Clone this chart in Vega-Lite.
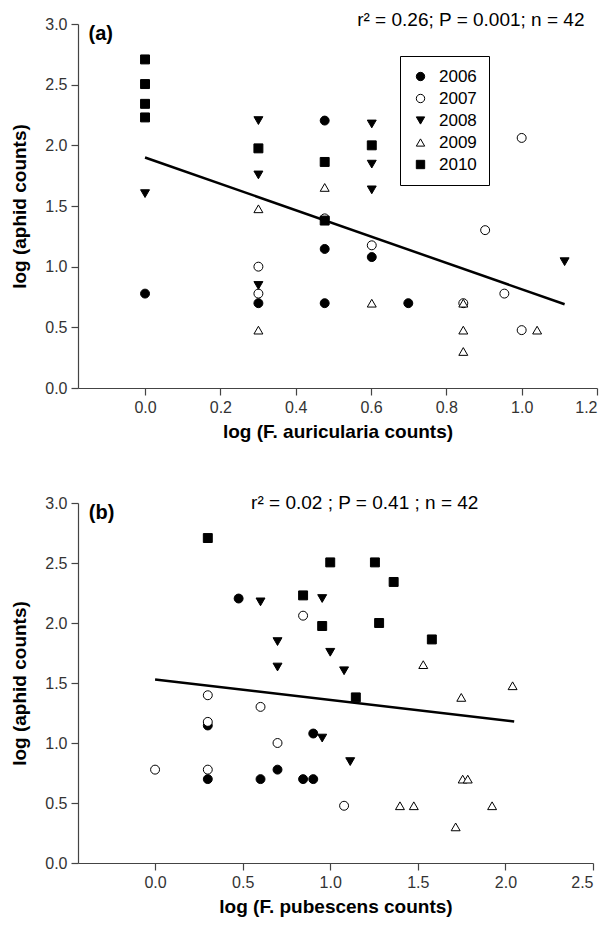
{
  "$schema": "https://vega.github.io/schema/vega-lite/v6.json",
  "padding": {"left": 10, "top": 10, "right": 5, "bottom": 5},
  "background": "white",
  "spacing": 52,
  "config": {
    "font": "Liberation Sans",
    "view": {"stroke": null},
    "axis": {
      "grid": false,
      "domainColor": "#444",
      "tickColor": "#444",
      "labelColor": "#333",
      "labelFont": "Liberation Sans",
      "labelFontSize": 16,
      "titleFont": "Liberation Sans",
      "titleFontSize": 19,
      "titleFontWeight": "bold",
      "titleColor": "black",
      "tickSize": 7,
      "labelPadding": 4,
      "domainWidth": 1.2,
      "tickWidth": 1.2
    },
    "legend": {
      "strokeColor": "black",
      "fillColor": "white",
      "padding": 12,
      "cornerRadius": 0,
      "labelFont": "Liberation Sans",
      "labelFontSize": 17,
      "labelColor": "black",
      "symbolSize": 70,
      "symbolStrokeColor": "black",
      "symbolStrokeWidth": 1,
      "symbolOpacity": 1,
      "rowPadding": 4,
      "labelOffset": 10
    }
  },
  "vconcat": [
    {
      "width": 519,
      "height": 364,
      "layer": [
        {
          "data": {"values": [
            {"x": 0, "y": 0.778, "year": "2006"},
            {"x": 0.301, "y": 0.699, "year": "2006"},
            {"x": 0.477, "y": 2.204, "year": "2006"},
            {"x": 0.477, "y": 1.146, "year": "2006"},
            {"x": 0.477, "y": 0.699, "year": "2006"},
            {"x": 0.602, "y": 1.079, "year": "2006"},
            {"x": 0.699, "y": 0.699, "year": "2006"},
            {"x": 0.301, "y": 1.0, "year": "2007"},
            {"x": 0.301, "y": 0.778, "year": "2007"},
            {"x": 0.477, "y": 1.398, "year": "2007"},
            {"x": 0.602, "y": 1.176, "year": "2007"},
            {"x": 0.845, "y": 0.699, "year": "2007"},
            {"x": 0.903, "y": 1.301, "year": "2007"},
            {"x": 0.954, "y": 0.778, "year": "2007"},
            {"x": 1.0, "y": 2.061, "year": "2007"},
            {"x": 1.0, "y": 0.477, "year": "2007"},
            {"x": 0, "y": 1.602, "year": "2008"},
            {"x": 0.301, "y": 2.204, "year": "2008"},
            {"x": 0.301, "y": 1.756, "year": "2008"},
            {"x": 0.301, "y": 0.845, "year": "2008"},
            {"x": 0.602, "y": 2.176, "year": "2008"},
            {"x": 0.602, "y": 1.845, "year": "2008"},
            {"x": 0.602, "y": 1.633, "year": "2008"},
            {"x": 1.114, "y": 1.041, "year": "2008"},
            {"x": 0.301, "y": 1.477, "year": "2009"},
            {"x": 0.301, "y": 0.477, "year": "2009"},
            {"x": 0.477, "y": 1.653, "year": "2009"},
            {"x": 0.602, "y": 0.699, "year": "2009"},
            {"x": 0.845, "y": 0.699, "year": "2009"},
            {"x": 0.845, "y": 0.477, "year": "2009"},
            {"x": 0.845, "y": 0.301, "year": "2009"},
            {"x": 1.041, "y": 0.477, "year": "2009"},
            {"x": 0, "y": 2.708, "year": "2010"},
            {"x": 0, "y": 2.505, "year": "2010"},
            {"x": 0, "y": 2.342, "year": "2010"},
            {"x": 0, "y": 2.23, "year": "2010"},
            {"x": 0.301, "y": 1.975, "year": "2010"},
            {"x": 0.477, "y": 1.863, "year": "2010"},
            {"x": 0.477, "y": 1.38, "year": "2010"},
            {"x": 0.602, "y": 2.0, "year": "2010"}
          ]},
          "mark": {"type": "point", "filled": true, "opacity": 1, "stroke": "black", "strokeWidth": 1, "size": 80},
          "encoding": {
            "x": {"field": "x", "type": "quantitative",
              "scale": {"domain": [-0.178, 1.2], "nice": false, "zero": false},
              "axis": {"values": [0, 0.2, 0.4, 0.6, 0.8, 1.0, 1.2], "format": ".1f", "title": "log (F. auricularia counts)", "titlePadding": 7}},
            "y": {"field": "y", "type": "quantitative",
              "scale": {"domain": [0, 3], "nice": false},
              "axis": {"values": [0, 0.5, 1, 1.5, 2, 2.5, 3], "format": ".1f", "title": "log (aphid counts)", "titlePadding": 15}},
            "shape": {"field": "year", "type": "nominal",
              "scale": {"domain": ["2006", "2007", "2008", "2009", "2010"], "range": ["circle", "circle", "triangle-down", "triangle-up", "square"]},
              "legend": {"title": null, "orient": "none", "legendX": 322, "legendY": 32,
                "encode": {"symbols": {"update": {"stroke": {"value": "black"}, "strokeWidth": {"value": 1}, "opacity": {"value": 1}}}}}},
            "fill": {"field": "year", "type": "nominal",
              "scale": {"domain": ["2006", "2007", "2008", "2009", "2010"], "range": ["black", "white", "black", "white", "black"]},
              "legend": {"title": null, "orient": "none", "legendX": 322, "legendY": 32,
                "encode": {"symbols": {"update": {"stroke": {"value": "black"}, "strokeWidth": {"value": 1}, "opacity": {"value": 1}}}}}}
          }
        },
        {
          "data": {"values": [{"x": 0, "y": 1.9}, {"x": 1.114, "y": 0.69}]},
          "mark": {"type": "line", "color": "black", "strokeWidth": 2.5},
          "encoding": {
            "x": {"field": "x", "type": "quantitative"},
            "y": {"field": "y", "type": "quantitative"}
          }
        },
        {
          "data": {"values": [{"x": -0.15, "y": 2.918, "label": "(a)"}]},
          "mark": {"type": "text", "align": "left", "baseline": "middle", "fontSize": 20, "fontWeight": "bold", "color": "black"},
          "encoding": {
            "x": {"field": "x", "type": "quantitative"},
            "y": {"field": "y", "type": "quantitative"},
            "text": {"field": "label"}
          }
        },
        {
          "data": {"values": [{"x": 0.865, "y": 2.984, "label": "r² = 0.26; P = 0.001; n = 42"}]},
          "mark": {"type": "text", "align": "center", "baseline": "alphabetic", "fontSize": 19, "color": "black"},
          "encoding": {
            "x": {"field": "x", "type": "quantitative"},
            "y": {"field": "y", "type": "quantitative"},
            "text": {"field": "label"}
          }
        }
      ]
    },
    {
      "width": 515,
      "height": 360,
      "layer": [
        {
          "data": {"values": [
            {"x": 0.477, "y": 2.204, "year": "2006"},
            {"x": 0.301, "y": 1.146, "year": "2006"},
            {"x": 0.301, "y": 0.699, "year": "2006"},
            {"x": 0.602, "y": 0.699, "year": "2006"},
            {"x": 0.699, "y": 0.778, "year": "2006"},
            {"x": 0.845, "y": 0.699, "year": "2006"},
            {"x": 0.903, "y": 0.699, "year": "2006"},
            {"x": 0.903, "y": 1.079, "year": "2006"},
            {"x": 0, "y": 0.778, "year": "2007"},
            {"x": 0.301, "y": 1.398, "year": "2007"},
            {"x": 0.301, "y": 1.176, "year": "2007"},
            {"x": 0.301, "y": 0.778, "year": "2007"},
            {"x": 0.602, "y": 1.301, "year": "2007"},
            {"x": 0.699, "y": 1.0, "year": "2007"},
            {"x": 0.845, "y": 2.061, "year": "2007"},
            {"x": 1.079, "y": 0.477, "year": "2007"},
            {"x": 0.602, "y": 2.176, "year": "2008"},
            {"x": 0.699, "y": 1.845, "year": "2008"},
            {"x": 0.699, "y": 1.633, "year": "2008"},
            {"x": 0.954, "y": 2.204, "year": "2008"},
            {"x": 1.0, "y": 1.756, "year": "2008"},
            {"x": 1.079, "y": 1.602, "year": "2008"},
            {"x": 0.954, "y": 1.041, "year": "2008"},
            {"x": 1.114, "y": 0.845, "year": "2008"},
            {"x": 1.531, "y": 1.653, "year": "2009"},
            {"x": 2.041, "y": 1.477, "year": "2009"},
            {"x": 1.748, "y": 1.38, "year": "2009"},
            {"x": 1.756, "y": 0.699, "year": "2009"},
            {"x": 1.785, "y": 0.699, "year": "2009"},
            {"x": 1.398, "y": 0.477, "year": "2009"},
            {"x": 1.477, "y": 0.477, "year": "2009"},
            {"x": 1.924, "y": 0.477, "year": "2009"},
            {"x": 1.716, "y": 0.301, "year": "2009"},
            {"x": 0.301, "y": 2.708, "year": "2010"},
            {"x": 0.845, "y": 2.23, "year": "2010"},
            {"x": 1.0, "y": 2.505, "year": "2010"},
            {"x": 1.255, "y": 2.505, "year": "2010"},
            {"x": 1.362, "y": 2.342, "year": "2010"},
            {"x": 0.954, "y": 1.975, "year": "2010"},
            {"x": 1.279, "y": 2.0, "year": "2010"},
            {"x": 1.58, "y": 1.863, "year": "2010"},
            {"x": 1.146, "y": 1.38, "year": "2010"}
          ]},
          "mark": {"type": "point", "filled": true, "opacity": 1, "stroke": "black", "strokeWidth": 1, "size": 80},
          "encoding": {
            "x": {"field": "x", "type": "quantitative",
              "scale": {"domain": [-0.44, 2.5], "nice": false, "zero": false},
              "axis": {"values": [0, 0.5, 1, 1.5, 2, 2.5], "format": ".1f", "title": "log (F. pubescens  counts)", "titlePadding": 7}},
            "y": {"field": "y", "type": "quantitative",
              "scale": {"domain": [0, 3], "nice": false},
              "axis": {"values": [0, 0.5, 1, 1.5, 2, 2.5, 3], "format": ".1f", "title": "log (aphid counts)", "titlePadding": 15}},
            "shape": {"field": "year", "type": "nominal",
              "scale": {"domain": ["2006", "2007", "2008", "2009", "2010"], "range": ["circle", "circle", "triangle-down", "triangle-up", "square"]},
              "legend": {"title": null, "orient": "none", "legendX": 397, "legendY": 24,
                "encode": {"symbols": {"update": {"stroke": {"value": "black"}, "strokeWidth": {"value": 1}, "opacity": {"value": 1}}}}}},
            "fill": {"field": "year", "type": "nominal",
              "scale": {"domain": ["2006", "2007", "2008", "2009", "2010"], "range": ["black", "white", "black", "white", "black"]},
              "legend": {"title": null, "orient": "none", "legendX": 397, "legendY": 24,
                "encode": {"symbols": {"update": {"stroke": {"value": "black"}, "strokeWidth": {"value": 1}, "opacity": {"value": 1}}}}}}
          }
        },
        {
          "data": {"values": [{"x": 0, "y": 1.53}, {"x": 2.05, "y": 1.18}]},
          "mark": {"type": "line", "color": "black", "strokeWidth": 2.5},
          "encoding": {
            "x": {"field": "x", "type": "quantitative"},
            "y": {"field": "y", "type": "quantitative"}
          }
        },
        {
          "data": {"values": [{"x": -0.378, "y": 2.92, "label": "(b)"}]},
          "mark": {"type": "text", "align": "left", "baseline": "middle", "fontSize": 20, "fontWeight": "bold", "color": "black"},
          "encoding": {
            "x": {"field": "x", "type": "quantitative"},
            "y": {"field": "y", "type": "quantitative"},
            "text": {"field": "label"}
          }
        },
        {
          "data": {"values": [{"x": 1.197, "y": 2.95, "label": "r² = 0.02 ; P = 0.41 ; n = 42"}]},
          "mark": {"type": "text", "align": "center", "baseline": "alphabetic", "fontSize": 19, "color": "black"},
          "encoding": {
            "x": {"field": "x", "type": "quantitative"},
            "y": {"field": "y", "type": "quantitative"},
            "text": {"field": "label"}
          }
        }
      ]
    }
  ]
}
